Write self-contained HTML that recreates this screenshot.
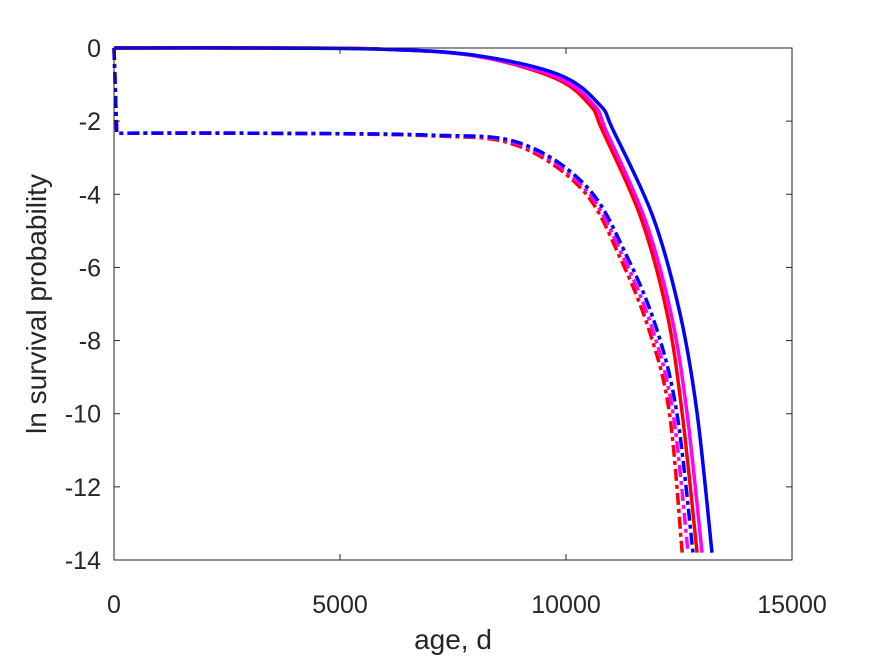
<!DOCTYPE html>
<html><head><meta charset="utf-8"><style>
body{margin:0;background:#fff}
svg text{font-family:"Liberation Sans",sans-serif;fill:#262626}
</style></head><body>
<svg id="c" width="875" height="656" xmlns="http://www.w3.org/2000/svg">
<rect width="875" height="656" fill="#fff"/>
<g id="plot"></g>
<g id="axes"></g>
</svg>
<script>
const xTicks=[0,5000,10000,15000];
const yTicks=[0,-2,-4,-6,-8,-10,-12,-14];
const tBlueSolid=[0,3000,5885,8000,9867,10750,11040,11925,12520,12900,13230];
const vBlueSolid=[0,0,-0.03,-0.2,-0.74,-1.56,-2.24,-4.62,-7.25,-9.98,-13.8];
const tMagSolid=[0,3000,5885,8000,9800,10620,10900,11750,12330,12680,13010];
const vMagSolid=[0,0,-0.03,-0.22,-0.8,-1.56,-2.3,-4.7,-7.3,-10,-13.8];
const tRedSolid=[0,3000,5885,8000,9750,10530,10800,11650,12235,12570,12900];
const vRedSolid=[0,0,-0.03,-0.22,-0.82,-1.56,-2.24,-4.62,-7.25,-9.98,-13.8];
const tBlueDash=[0,60,3000,7000,8980,10465,11350,12010,12455,12810];
const vBlueDash=[0,-2.33,-2.33,-2.38,-2.6,-3.8,-5.7,-7.7,-10,-13.8];
const tMagDash=[0,60,3000,7000,8950,10420,11280,11930,12370,12700];
const vMagDash=[0,-2.33,-2.33,-2.39,-2.63,-3.85,-5.75,-7.75,-10,-13.8];
const tRedDash=[0,60,3000,7000,8900,10380,11220,11860,12290,12570];
const vRedDash=[0,-2.33,-2.33,-2.4,-2.66,-3.9,-5.8,-7.8,-10,-13.8];
const L=114,R=792,T=48,B=560;
const xs=v=>L+(v-0)/15000*(R-L);
const ys=v=>T+(0-v)/14*(B-T);
const NS="http://www.w3.org/2000/svg";
function mk(tag,attrs,parent){const e=document.createElementNS(NS,tag);for(const k in attrs)e.setAttribute(k,attrs[k]);parent.appendChild(e);return e;}
const plot=document.getElementById('plot'),axes=document.getElementById('axes');
function pathFor(ts,vs){
  const p=ts.map((t,i)=>[xs(t),ys(vs[i])]);
  let d=`M${p[0][0]},${p[0][1]}`;
  for(let i=0;i<p.length-1;i++){
    const p0=p[Math.max(i-1,0)],p1=p[i],p2=p[i+1],p3=p[Math.min(i+2,p.length-1)];
    if(i===0&&Math.abs(p2[0]-p1[0])<5){d+=` L${p2[0]},${p2[1]}`;continue;}
    let q0=p0; if(i===1&&Math.abs(p1[0]-p0[0])<5) q0=p1;
    const c1=[p1[0]+(p2[0]-q0[0])/6,p1[1]+(p2[1]-q0[1])/6];
    const c2=[p2[0]-(p3[0]-p1[0])/6,p2[1]-(p3[1]-p1[1])/6];
    d+=` C${c1[0]},${c1[1]} ${c2[0]},${c2[1]} ${p2[0]},${p2[1]}`;
  }
  return d;
}
const series=[
 [tRedDash,vRedDash,'#ff0000',true,'red-dashed-line'],
 [tMagDash,vMagDash,'#ff00ff',true,'magenta-dashed-line'],
 [tBlueDash,vBlueDash,'#0000ff',true,'blue-dashed-line'],
 [tRedSolid,vRedSolid,'#ff0000',false,'red-solid-line'],
 [tMagSolid,vMagSolid,'#ff00ff',false,'magenta-solid-line'],
 [tBlueSolid,vBlueSolid,'#0000ff',false,'blue-solid-line']];
series.forEach(s=>{
  const e=mk('path',{d:pathFor(s[0],s[1]),fill:'none',stroke:s[2],'stroke-width':3.5,'stroke-linejoin':'round'},plot);
  if(s[3])e.setAttribute('stroke-dasharray','12,4,4,4');
  
  
});
const box=mk('rect',{x:L,y:T,width:R-L,height:B-T,fill:'none',stroke:'#262626','stroke-width':1},axes);


xTicks.forEach(v=>{
  const x=xs(v);
  mk('line',{x1:x,x2:x,y1:B,y2:B-6,stroke:'#262626'},axes);
  mk('line',{x1:x,x2:x,y1:T,y2:T+6,stroke:'#262626'},axes);
  const t=mk('text',{x:x,y:B+53,'text-anchor':'middle','font-size':25},axes);
  t.textContent=v;
  
  
});
yTicks.forEach(v=>{
  const y=ys(v);
  mk('line',{x1:L,x2:L+6,y1:y,y2:y,stroke:'#262626'},axes);
  mk('line',{x1:R,x2:R-6,y1:y,y2:y,stroke:'#262626'},axes);
  const t=mk('text',{x:L-13,y:y+9,'text-anchor':'end','font-size':25},axes);
  t.textContent=v;
  
  
});
const xl=mk('text',{x:(L+R)/2,y:649,'text-anchor':'middle','font-size':28},axes);
xl.textContent='age, d';


const yl=mk('text',{x:0,y:0,'text-anchor':'middle','font-size':28,transform:`translate(46,${(T+B)/2}) rotate(-90)`},axes);
yl.textContent='ln survival probability';


</script>
</body></html>
